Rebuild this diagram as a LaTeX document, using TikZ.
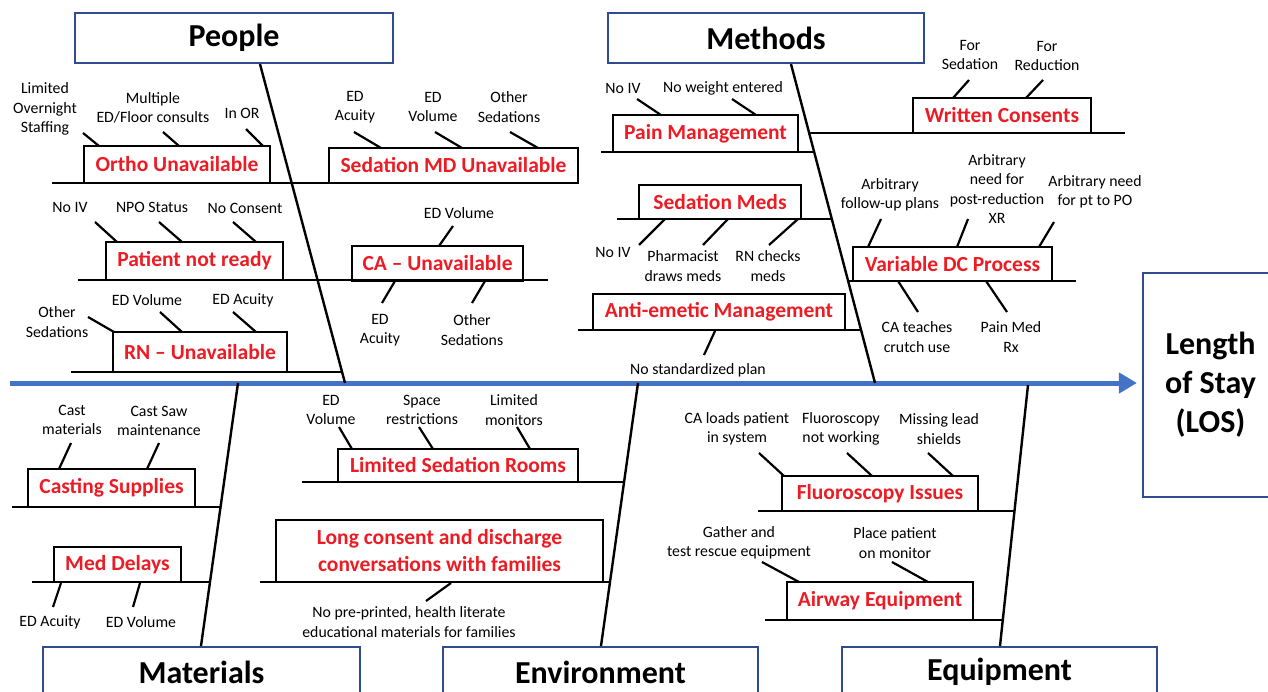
\documentclass[tikz,border=0pt]{standalone}
\usepackage{fontspec}
\setmainfont{Carlito}
\usetikzlibrary{arrows.meta,calc}
\definecolor{spineblue}{RGB}{68,114,196}
\definecolor{navy}{RGB}{47,75,145}
\definecolor{causered}{RGB}{237,28,36}
\tikzset{
  cat/.style={draw=navy, line width=2.2pt, fill=white, inner sep=0pt, align=center,
    font=\fontsize{32}{39}\selectfont\bfseries},
  sub/.style={draw=black, line width=1.2pt, fill=white, inner sep=0pt, text=causered, align=center,
    font=\fontsize{21.5}{27}\selectfont\bfseries},
  lbl/.style={align=center, inner sep=0pt, font=\fontsize{15.8}{19.5}\selectfont},
  bone/.style={line width=2.4pt, black},
  branch/.style={line width=2.6pt, black},
  tickln/.style={line width=2.2pt, black},
}
\newcommand{\tk}[4]{\draw[tickln] (#1,#2) -- (#3,#4);}
\begin{document}
\begin{tikzpicture}[x=1pt,y=-1pt]
\useasboundingbox (0,0) rectangle (1268,692);
\clip (0,0) rectangle (1268,692);

% ---------- category boxes ----------
\node[cat, minimum width=318, minimum height=50] (people) at (234,38) {People};
\node[cat, minimum width=316, minimum height=50] (methods) at (766,38) {Methods};
\node[cat, minimum width=317, minimum height=50] (materials) at (201.5,672) {Materials};
\node[cat, minimum width=315, minimum height=50] (environment) at (600.5,672) {Environment};
\node[cat, minimum width=315, minimum height=50] (equipment) at (999.5,672) {Equipment};
\node[cat, minimum width=135, minimum height=224] (los) at (1210.5,385) {Length\\of Stay\\(LOS)};

% ---------- spine ----------
\coordinate (spineL) at (10,383);
\coordinate (spineR) at (los.west);
\draw[spineblue, line width=5pt, -{Triangle[length=18pt,width=20pt]}, shorten >=5pt] (spineL) -- (spineL -| spineR);

% spine points of bones
\coordinate (sPeople) at (345,383);
\coordinate (sMethods) at (875,383);
\coordinate (sMaterials) at (238,383);
\coordinate (sEnvironment) at (638,383);
\coordinate (sEquipment) at (1028,385);

\draw[bone] ($(people.south)+(26,0)$) -- (sPeople);
\draw[bone] ($(methods.south)+(25,0)$) -- (sMethods);
\draw[bone] (sMaterials) -- ($(materials.north)+(-0.5,0)$);
\draw[bone] (sEnvironment) -- ($(environment.north)+(0.5,0)$);
\draw[bone] (sEquipment) -- ($(equipment.north)+(0.5,0)$);

% ---------- People ----------
\node[sub, minimum width=186, minimum height=37] (ortho) at (177,164.5) {Ortho Unavailable};
\node[sub, minimum width=249, minimum height=35] (sedmd) at (453.5,165.5) {Sedation MD Unavailable};
\node[sub, minimum width=177, minimum height=38] (patient) at (194.5,261) {Patient not ready};
\node[sub, minimum width=171, minimum height=35] (ca) at (437.5,263.5) {CA -- Unavailable};
\node[sub, minimum width=174, minimum height=40] (rn) at (200,352) {RN -- Unavailable};

\draw[branch] (52,183) -- (292,183) coordinate (pb1) -- (563,183);
\draw[branch] (78,280) -- (318,280) coordinate (pb2) -- (548,280);
\draw[branch] (71,372) -- (342,372);

\node[lbl] (o1) at (45,109) {Limited\\Overnight\\Staffing};
\node[lbl] (o2) at (153,108) {Multiple\\ED/Floor consults};
\node[lbl] (o3) at (242,113) {In OR};
\tk{83}{133}{99}{146}\tk{163}{132}{179}{146}\tk{246}{129}{263}{146}

\node[lbl] (m1) at (355,107) {ED\\Acuity};
\node[lbl] (m2) at (433,107) {ED\\Volume};
\node[lbl] (m3) at (509,107) {Other\\Sedations};
\tk{354}{132}{381}{148}\tk{435}{132}{462}{148}\tk{510}{132}{538}{148}

\node[lbl] (p1) at (70,207) {No IV};
\node[lbl] (p2) at (152,207) {NPO Status};
\node[lbl] (p3) at (245,208) {No Consent};
\tk{95}{222}{117}{242}\tk{159}{222}{182}{242}\tk{233}{222}{256}{242}

\node[lbl] (c1) at (459,213) {ED Volume};
\node[lbl] (c2) at (380,330) {ED\\Acuity};
\node[lbl] (c3) at (472,330) {Other\\Sedations};
\tk{453}{226}{439}{246}\tk{395}{281}{382}{303}\tk{485}{281}{472}{303}

\node[lbl] (r1) at (57,322) {Other\\Sedations};
\node[lbl] (r2) at (147,300) {ED Volume};
\node[lbl] (r3) at (243,300) {ED Acuity};
\tk{88}{317}{114}{332}\tk{160}{312}{182}{332}\tk{233}{312}{256}{332}

% ---------- Methods ----------
\node[sub, minimum width=185, minimum height=37] (pain) at (705.5,133.5) {Pain Management};
\node[sub, minimum width=178, minimum height=35] (written) at (1002,115.5) {Written Consents};
\node[sub, minimum width=162, minimum height=34] (sedmeds) at (720,202) {Sedation Meds};
\node[sub, minimum width=199, minimum height=34] (vdc) at (952.5,264) {Variable DC Process};
\node[sub, minimum width=252, minimum height=36] (anti) at (719,312) {Anti-emetic Management};

\draw[branch] (809,133) -- (1125,133);
\draw[branch] (601,152) -- (814,152);
\draw[branch] (617,219) -- (832,219);
\draw[branch] (848,281) -- (1076,281);
\draw[branch] (578,330) -- (861,330);

\node[lbl] (pm1) at (623,88) {No IV};
\node[lbl] (pm2) at (723,88) {No weight entered};
\tk{637}{99}{661}{115}\tk{732}{99}{756}{115}

\node[lbl] (w1) at (970,55) {For\\Sedation};
\node[lbl] (w2) at (1047,56) {For\\Reduction};
\tk{969}{80}{953}{98}\tk{1043}{80}{1026}{98}

\node[lbl] (s1) at (613,252) {No IV};
\node[lbl] (s2) at (683,266) {Pharmacist\\draws meds};
\node[lbl] (s3) at (768,266) {RN checks\\meds};
\tk{665}{219}{639}{245}\tk{728}{219}{703}{245}\tk{798}{219}{769}{245}

\node[lbl] (a1) at (698,370) {No standardized plan};
\tk{715}{331}{704}{355}

\node[lbl] (v1) at (890,195) {Arbitrary\\follow-up plans};
\node[lbl] (v2) at (997,189) {Arbitrary\\need for\\post-reduction\\XR};
\node[lbl] (v3) at (1095,192) {Arbitrary need\\for pt to PO};
\node[lbl] (v4) at (917,337) {CA teaches\\crutch use};
\node[lbl] (v5) at (1011,337) {Pain Med\\Rx};
\tk{881}{219}{868}{247}\tk{968}{219}{957}{247}\tk{1054}{222}{1039}{247}
\tk{898}{281}{918}{312}\tk{986}{281}{1007}{312}

% ---------- Materials ----------
\node[sub, minimum width=167, minimum height=38] (casting) at (111.5,488) {Casting Supplies};
\node[sub, minimum width=127, minimum height=35] (med) at (117.5,564.5) {Med Delays};
\draw[branch] (12,507) -- (221,507);
\draw[branch] (32,582) -- (211,582);

\node[lbl] (ct1) at (72,420) {Cast\\materials};
\node[lbl] (ct2) at (159,421) {Cast Saw\\maintenance};
\tk{71}{443}{59}{469}\tk{159}{443}{147}{469}

\node[lbl] (md1) at (50,622) {ED Acuity};
\node[lbl] (md2) at (141,622) {ED Volume};
\tk{61}{583}{53}{607}\tk{140}{583}{133}{607}

% ---------- Environment ----------
\node[sub, minimum width=240, minimum height=33] (lsr) at (458,465.5) {Limited Sedation Rooms};
\node[sub, minimum width=327, minimum height=62] (long) at (439.5,551) {Long consent and discharge\\conversations with families};
\draw[branch] (302,482) -- (624,482);
\draw[branch] (260,582) -- (610,582);

\node[lbl] (e1) at (331,410) {ED\\Volume};
\node[lbl] (e2) at (422,410) {Space\\restrictions};
\node[lbl] (e3) at (514,410) {Limited\\monitors};
\tk{339}{427}{352}{449}\tk{419}{427}{433}{449}\tk{517}{427}{530}{449}

\node[lbl] (e4) at (409,622) {No pre-printed, health literate\\educational materials for families};
\tk{451}{583}{426}{601}

% ---------- Equipment ----------
\node[sub, minimum width=196, minimum height=35] (fluoro) at (880,493.5) {Fluoroscopy Issues};
\node[sub, minimum width=186, minimum height=38] (airway) at (880,601) {Airway Equipment};
\draw[branch] (758,511) -- (1014.5,511);
\draw[branch] (765,620) -- (1003,620);

\node[lbl] (f1) at (737,429) {CA loads patient\\in system};
\node[lbl] (f2) at (841,429) {Fluoroscopy\\not working};
\node[lbl] (f3) at (939,429) {Missing lead\\shields};
\tk{759}{453}{784}{476}\tk{847}{453}{872}{476}\tk{928}{453}{953}{476}

\node[lbl] (g1) at (739,543) {Gather and\\test rescue equipment};
\node[lbl] (g2) at (895,543) {Place patient\\on monitor};
\tk{762}{562}{799}{582}\tk{892}{562}{928}{582}

\end{tikzpicture}
\end{document}
